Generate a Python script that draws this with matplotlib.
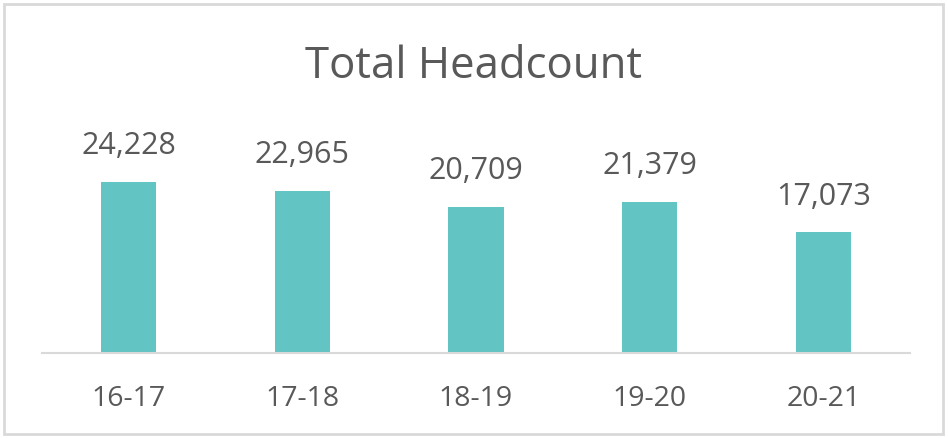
import numpy as np
import matplotlib.pyplot as plt
from matplotlib.patches import Rectangle

# data
years = ["16-17", "17-18", "18-19", "19-20", "20-21"]
headcount = [24228, 22965, 20709, 21379, 17073]

bar_color = "#62C4C3"
text_color = "#595959"
line_color = "#D9D9D9"

plt.rcParams['font.family'] = ['Open Sans', 'DejaVu Sans']

fig = plt.figure(figsize=(9.48, 4.38), dpi=100)
ax = fig.add_axes([42/948, 85/438, 868/948, 233/438])

x = np.arange(len(years))
ax.bar(x, headcount, width=0.317, color=bar_color, zorder=2)

for xi, v in zip(x, headcount):
    ax.annotate(f"{v:,}", (xi, v), xytext=(0, 15), textcoords="offset points",
                ha="center", va="bottom", fontsize=22, color=text_color)

ax.set_xlim(-0.5, len(years) - 0.5)
ax.set_ylim(0, 33000)
ax.set_xticks(x)
ax.set_xticklabels(years, fontsize=20.5, color=text_color)
ax.tick_params(axis="x", length=0, pad=23)
ax.set_yticks([])
for s in ["top", "right", "left"]:
    ax.spines[s].set_visible(False)
ax.spines["bottom"].set_color(line_color)
ax.spines["bottom"].set_linewidth(1.5)

fig.text(0.5, 1 - 67/438, "Total Headcount", ha="center", va="center",
         fontsize=31.5, color=text_color)

# chart border
fig.patches.append(Rectangle((4/948, 4/438), 939/948, 430/438, transform=fig.transFigure,
                             fill=False, edgecolor=line_color, linewidth=2))

fig.savefig("out.png", dpi=100)
